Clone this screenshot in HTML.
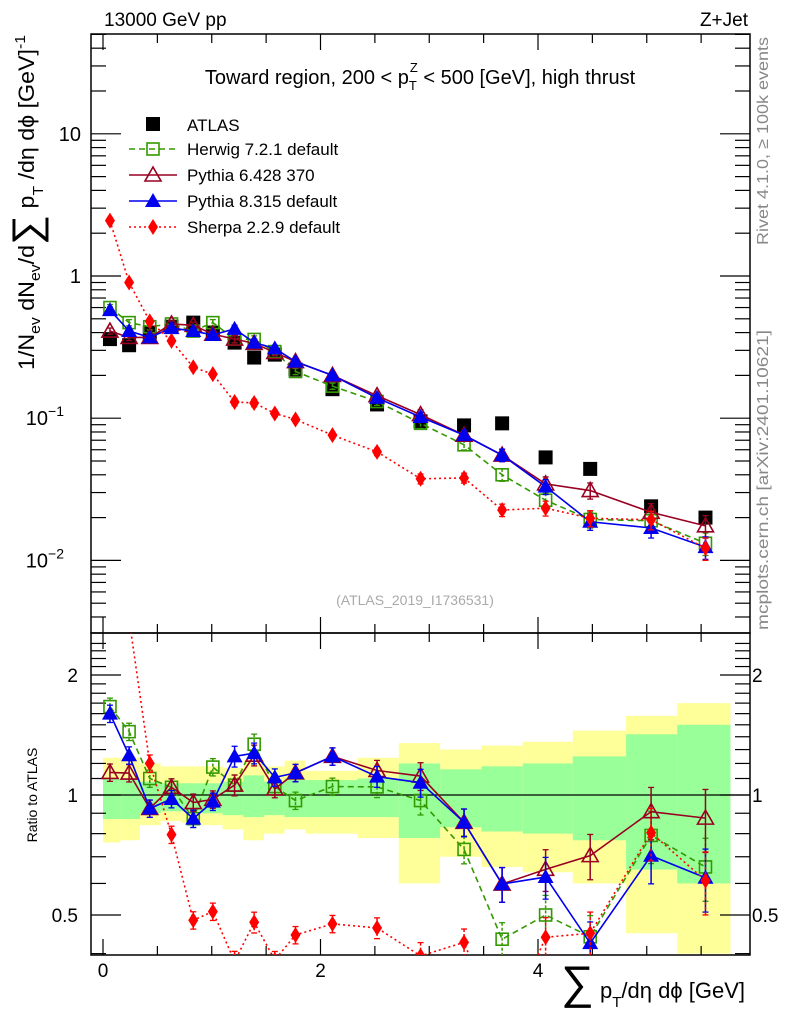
<!DOCTYPE html>
<html><head><meta charset="utf-8"><style>
html,body{margin:0;padding:0;background:#fff;}
svg{display:block;font-family:"Liberation Sans",sans-serif;}
</style></head><body>
<svg id="c" width="786" height="1024" xmlns="http://www.w3.org/2000/svg"></svg>
<script>
const binEdges=[0,0.16,0.34,0.53,0.72,0.91,1.1,1.29,1.48,1.67,1.86,2.34,2.72,3.10,3.48,3.86,4.32,4.81,5.28,5.77];
const binCenters=[0.064,0.24,0.43,0.63,0.83,1.01,1.21,1.39,1.58,1.77,2.11,2.52,2.92,3.32,3.67,4.07,4.48,5.04,5.54];
const atlas=[0.36,0.326,0.40,0.44,0.47,0.40,0.34,0.267,0.28,0.22,0.16,0.125,0.095,0.089,0.092,0.053,0.044,0.024,0.020];
const herwig=[0.60,0.47,0.44,0.46,0.41,0.47,0.36,0.358,0.294,0.213,0.168,0.131,0.092,0.065,0.040,0.0265,0.0194,0.019,0.0132];
const pythia6=[0.41,0.37,0.37,0.46,0.45,0.39,0.36,0.336,0.29,0.25,0.20,0.144,0.106,0.076,0.055,0.0345,0.031,0.0218,0.0175];
const pythia8=[0.576,0.41,0.37,0.43,0.41,0.385,0.425,0.34,0.31,0.25,0.20,0.139,0.102,0.076,0.055,0.033,0.0187,0.0169,0.0124];
const sherpa=[2.45,0.90,0.48,0.35,0.228,0.204,0.13,0.128,0.108,0.098,0.076,0.058,0.0375,0.038,0.0226,0.0233,0.0198,0.0193,0.0122];
const relErr=[0.05,0.05,0.05,0.05,0.05,0.05,0.06,0.06,0.05,0.05,0.05,0.06,0.08,0.08,0.1,0.12,0.13,0.15,0.18];
const greenLo=[0.87,0.87,0.90,0.91,0.91,0.90,0.89,0.88,0.89,0.88,0.88,0.88,0.78,0.83,0.81,0.80,0.77,0.65,0.60];
const greenHi=[1.10,1.10,1.08,1.07,1.07,1.07,1.08,1.12,1.08,1.10,1.09,1.10,1.20,1.16,1.18,1.20,1.25,1.42,1.50];
const yellowLo=[0.76,0.77,0.84,0.86,0.85,0.84,0.82,0.77,0.80,0.82,0.80,0.78,0.60,0.70,0.66,0.64,0.60,0.45,0.40];
const yellowHi=[1.24,1.24,1.20,1.18,1.18,1.18,1.17,1.22,1.18,1.22,1.15,1.24,1.35,1.30,1.33,1.36,1.45,1.58,1.70];
const xTicks=[0,2,4];
const ratioTicks=[2,1,0.5];

const NS="http://www.w3.org/2000/svg";
const svg=document.getElementById('c');
function el(tag,attrs,parent){const e=document.createElementNS(NS,tag);for(const k in attrs)e.setAttribute(k,attrs[k]);(parent||svg).appendChild(e);return e;}
const L=91,R=750,T=34,MB=633,RB=955;
function X(v){return 103+v*108.75;}
function Y(v){return 276-142.2*Math.log10(v);}
function YR(r){return 795-120*Math.log2(r);}

const defs=el('defs',{});
const c1=el('clipPath',{id:'cm'},defs);el('rect',{x:L,y:T,width:R-L,height:MB-T},c1);
const c2=el('clipPath',{id:'cr'},defs);el('rect',{x:L,y:MB,width:R-L,height:RB-MB},c2);

const gBand=el('g',{'clip-path':'url(#cr)'});


for(let i=0;i<binCenters.length;i++){
  const x0=X(binEdges[i]),x1=X(binEdges[i+1]);
  const y=el('rect',{x:x0,y:YR(yellowHi[i]),width:x1-x0,height:YR(yellowLo[i])-YR(yellowHi[i]),fill:'#ffff99'},gBand);
  
  
}
for(let i=0;i<binCenters.length;i++){
  const x0=X(binEdges[i]),x1=X(binEdges[i+1]);
  const g=el('rect',{x:x0,y:YR(greenHi[i]),width:x1-x0,height:YR(greenLo[i])-YR(greenHi[i]),fill:'#99ff99'},gBand);
  
  
}
el('line',{x1:L,x2:R,y1:YR(1),y2:YR(1),stroke:'#000','stroke-width':1.2});

el('rect',{x:L,y:T,width:R-L,height:MB-T,fill:'none',stroke:'#000','stroke-width':1.5});
el('rect',{x:L,y:MB,width:R-L,height:RB-MB,fill:'none',stroke:'#000','stroke-width':1.5});

for(let v=0;v<=5.9;v+=0.5){
  const big=Math.abs(v%2)<1e-6;const len=big?16:9;
  [[T,1],[MB,-1],[MB,1],[RB,-1]].forEach(([y0,d])=>el('line',{x1:X(v),x2:X(v),y1:y0,y2:y0+d*len,stroke:'#000','stroke-width':1.2}));
}
xTicks.forEach(v=>{const t=el('text',{x:X(v),y:977,'font-size':19,'text-anchor':'middle'});t.textContent=v;
  
  });

for(let e=-3;e<=1;e++){for(let m=1;m<10;m++){const v=m*Math.pow(10,e);const y=Y(v);if(y<T||y>MB)continue;const len=m==1?30:15;
  el('line',{x1:L,x2:L+len,y1:y,y2:y,stroke:'#000','stroke-width':1.2});el('line',{x1:R,x2:R-len,y1:y,y2:y,stroke:'#000','stroke-width':1.2});}}
function ylab(txt,exp,y){const t=el('text',{x:81,y:y+7,'font-size':20,'text-anchor':'end'});t.textContent=txt;
  
  }
ylab('10','',Y(10));ylab('1','',Y(1));
{const t=el('text',{x:64,y:Y(0.1)+7,'font-size':20,'text-anchor':'end'});t.textContent='10';el('tspan',{dy:-9,'font-size':14},t).textContent='\u22121';}
{const t=el('text',{x:64,y:Y(0.01)+7,'font-size':20,'text-anchor':'end'});t.textContent='10';el('tspan',{dy:-9,'font-size':14},t).textContent='\u22122';}

for(let r=0.4;r<=2.5;r+=0.1){const y=YR(r);if(y<MB||y>RB)continue;const big=[0.5,1,2].some(v=>Math.abs(v-r)<1e-6);const len=big?30:15;
  el('line',{x1:L,x2:L+len,y1:y,y2:y,stroke:'#000','stroke-width':1.2});el('line',{x1:R,x2:R-len,y1:y,y2:y,stroke:'#000','stroke-width':1.2});}
ratioTicks.forEach(r=>{[[78,'end'],[752,'start']].forEach(([x,a])=>{const t=el('text',{x:x,y:YR(r)+7,'font-size':19,'text-anchor':a});t.textContent=r;
  
  });});

function marker(g,type,x,y,col){
  const s=7;
  if(type=='sq') el('rect',{x:x-s,y:y-s,width:2*s,height:2*s,fill:'#000'},g);
  else if(type=='osq') el('rect',{x:x-6,y:y-6,width:12,height:12,fill:'none',stroke:col,'stroke-width':1.6},g);
  else if(type=='otri') el('polygon',{points:`${x},${y-8} ${x-8},${y+6} ${x+8},${y+6}`,fill:'none',stroke:col,'stroke-width':1.6},g);
  else if(type=='tri') el('polygon',{points:`${x},${y-8} ${x-8},${y+6} ${x+8},${y+6}`,fill:col},g);
  else if(type=='dia') el('polygon',{points:`${x},${y-8} ${x-5},${y} ${x},${y+8} ${x+5},${y}`,fill:col},g);
}
const series=[
  {name:'herwig',vals:herwig,col:'#339900',dash:'6,4',m:'osq',label:'Herwig 7.2.1 default'},
  {name:'pythia6',vals:pythia6,col:'#990022',dash:'',m:'otri',label:'Pythia 6.428 370'},
  {name:'pythia8',vals:pythia8,col:'#0000ee',dash:'',m:'tri',label:'Pythia 8.315 default'},
  {name:'sherpa',vals:sherpa,col:'#ff0000',dash:'2,3',m:'dia',label:'Sherpa 2.2.9 default'}
];
const gM=el('g',{'clip-path':'url(#cm)'});
const gR=el('g',{'clip-path':'url(#cr)'});
const ga=el('g',{},gM);


atlas.forEach((v,i)=>marker(ga,'sq',X(binCenters[i]),Y(v),'#000'));
series.forEach(s=>{
  [[gM,v=>Y(v),(v,i)=>v],[gR,r=>YR(r),(v,i)=>v/atlas[i]]].forEach(([par,yf,tf],k)=>{
    const g=el('g',{},par);
    
    
    const pts=s.vals.map((v,i)=>[X(binCenters[i]),yf(tf(v,i))]);
    el('polyline',{points:pts.map(p=>p.join(',')).join(' '),fill:'none',stroke:s.col,'stroke-width':1.6,'stroke-dasharray':s.dash},g);
    s.vals.forEach((v,i)=>{const val=tf(v,i);const e=relErr[i];const x=X(binCenters[i]);
      const y1=yf(val*(1+e)),y2=yf(val*(1-e));
      el('line',{x1:x,x2:x,y1:y1,y2:y2,stroke:s.col,'stroke-width':1.5,'stroke-dasharray':s.dash?'3,2':''},g);
      el('line',{x1:x-3,x2:x+3,y1:y1,y2:y1,stroke:s.col,'stroke-width':1.3},g);
      el('line',{x1:x-3,x2:x+3,y1:y2,y2:y2,stroke:s.col,'stroke-width':1.3},g);
      marker(g,s.m,x,pts[i][1],s.col);});
  });
});

const lg=el('g',{});


const lys=[124,149,175,201,227];
marker(lg,'sq',153,lys[0],'#000');
{const t=el('text',{x:187,y:lys[0]+7,'font-size':17},lg);t.textContent='ATLAS';}
series.forEach((s,i)=>{const y=lys[i+1];
  el('line',{x1:129,x2:177,y1:y,y2:y,stroke:s.col,'stroke-width':1.5,'stroke-dasharray':s.dash},lg);
  marker(lg,s.m,153,y,s.col);
  const t=el('text',{x:187,y:y+6,'font-size':17},lg);t.textContent=s.label;
  
  });

function txt(x,y,s,attrs,name){const t=el('text',Object.assign({x:x,y:y},attrs));t.innerHTML=s;
  
  return t;}
txt(104,26,'13000 GeV pp',{'font-size':19},'energy-label');
txt(748,26,'Z+Jet',{'font-size':19,'text-anchor':'end'},'process-label');
txt(420,84,'Toward region, 200 &lt; p<tspan dy="6" font-size="13">T</tspan><tspan dy="-18" dx="-7" font-size="13">Z</tspan><tspan dy="12"> &lt; 500 [GeV], high thrust</tspan>',{'font-size':20,'text-anchor':'middle'},'plot-title');
txt(415,605,'(ATLAS_2019_I1736531)',{'font-size':14,fill:'#aaaaaa','text-anchor':'middle'},'analysis-id');
txt(0,0,'Rivet 4.1.0, \u2265 100k events',{'font-size':16,fill:'#888','text-anchor':'end',textLength:208,lengthAdjust:'spacingAndGlyphs',transform:'translate(768,37) rotate(-90)'},'rivet-label');
txt(0,0,'mcplots.cern.ch [arXiv:2401.10621]',{'font-size':16,fill:'#888','text-anchor':'end',textLength:300,lengthAdjust:'spacingAndGlyphs',transform:'translate(768,330) rotate(-90)'},'mcplots-label');
txt(0,0,'1/N<tspan dy="6" font-size="15">ev</tspan><tspan dy="-6"> dN</tspan><tspan dy="6" font-size="15">ev</tspan><tspan dy="-6">/d</tspan><tspan font-size="40" dy="6">\u2211</tspan><tspan dy="-6"> p</tspan><tspan dy="9" font-size="15">T</tspan><tspan dy="-9"> /d\u03b7 d\u03d5  [GeV]</tspan><tspan dy="-9" font-size="15">-1</tspan>',{'font-size':22,'text-anchor':'end',textLength:335,lengthAdjust:'spacingAndGlyphs',transform:'translate(34,35) rotate(-90)'},'y-axis-title');
txt(0,0,'Ratio to ATLAS',{'font-size':14,'text-anchor':'middle',transform:'translate(37,795) rotate(-90)'},'ratio-axis-title');
txt(745,998,'<tspan font-size="46">\u2211</tspan> p<tspan dy="9" font-size="15">T</tspan><tspan dy="-9">/d\u03b7 d\u03d5 [GeV]</tspan>',{'font-size':22,'text-anchor':'end'},'x-axis-title');
</script>
</body></html>
